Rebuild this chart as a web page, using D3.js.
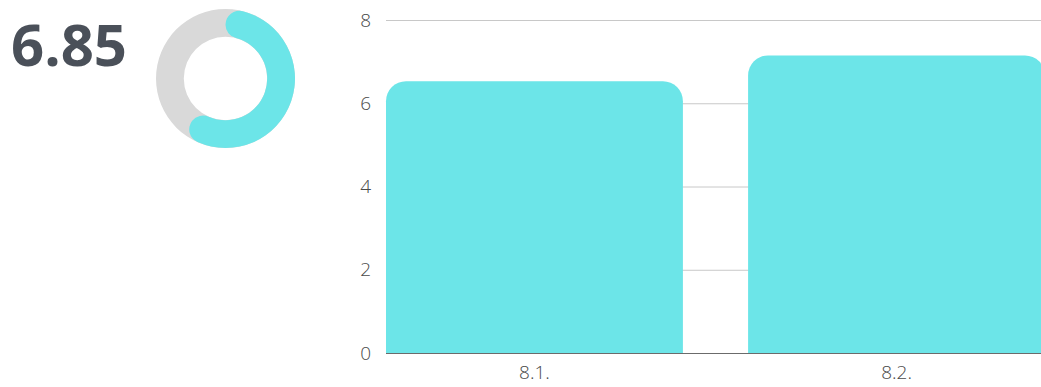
<!DOCTYPE html>
<html>
<head>
<meta charset="utf-8">
<script src="https://cdn.jsdelivr.net/npm/d3@7"></script>
<style>
  html, body { margin: 0; padding: 0; background: #fff; }
  svg { display: block; }
  text { font-family: "Open Sans", sans-serif; }
</style>
</head>
<body>
<svg id="chart" width="1041" height="387"></svg>
<script>
// Headline score and its gauge
const score = 6.85;
const gaugeDomain = [0, 11.3];

// Bar chart data
const categories = ["8.1.", "8.2."];
const values = [6.53, 7.15];
const yTicks = [0, 2, 4, 6, 8];

const cyan = "#6ce5e8";
const svg = d3.select("#chart");

// --- score text ---
svg.append("text")
  .attr("x", 11)
  .attr("y", 66)
  .style("font-size", "58px")
  .style("font-weight", 700)
  .attr("fill", "#4a5059")
  .text(score.toFixed(2));

// --- gauge donut ---
const gauge = svg.append("g").attr("transform", "translate(225.5,78.5)");
const angle = d3.scaleLinear().domain(gaugeDomain).range([0, 2 * Math.PI]);
const arc = d3.arc().innerRadius(41.7).outerRadius(69.5);
gauge.append("path")
  .attr("d", arc({startAngle: 0, endAngle: 2 * Math.PI}))
  .attr("fill", "#d9d9d9");
gauge.append("path")
  .attr("d", arc.cornerRadius(13.9)({startAngle: 0, endAngle: angle(score)}))
  .attr("fill", cyan);

// --- bar chart ---
const x = d3.scaleBand()
  .domain(categories)
  .range([386, 1045])
  .paddingInner(0.18)
  .paddingOuter(0);
const y = d3.scaleLinear().domain([0, 8]).range([353, 20]);

// grid lines
svg.append("g")
  .selectAll("line")
  .data(yTicks.filter(t => t > 0))
  .join("line")
  .attr("x1", 386).attr("x2", 1045)
  .attr("y1", d => y(d) + 0.5).attr("y2", d => y(d) + 0.5)
  .attr("stroke", "#c8c8c8")
  .attr("stroke-width", 1);

// y tick labels
const yAxis = d3.axisLeft(y).tickValues(yTicks).tickSize(0).tickPadding(15);
const gy = svg.append("g").attr("transform", "translate(386,0)").call(yAxis);
gy.select(".domain").remove();
gy.selectAll("text")
  .style("font-size", "19px")
  .style("font-weight", 300)
  .style("font-family", "'Open Sans', sans-serif")
  .attr("fill", "#4a4a4a");

// bars with rounded top corners
const r = 20;
function barPath(cat, v) {
  const x0 = x(cat), x1 = x0 + x.bandwidth();
  const yt = y(v), yb = y(0);
  return `M${x0},${yb}V${yt + r}A${r},${r} 0 0 1 ${x0 + r},${yt}H${x1 - r}A${r},${r} 0 0 1 ${x1},${yt + r}V${yb}Z`;
}
svg.append("g")
  .selectAll("path")
  .data(categories.map((c, i) => ({c, v: values[i]})))
  .join("path")
  .attr("d", d => barPath(d.c, d.v))
  .attr("fill", cyan);

// baseline
svg.append("line")
  .attr("x1", 386).attr("x2", 1045)
  .attr("y1", y(0) + 0.5).attr("y2", y(0) + 0.5)
  .attr("stroke", "#6b6b6b")
  .attr("stroke-width", 1);

// x category labels
const xAxis = d3.axisBottom(x).tickSize(0).tickPadding(13);
const gx = svg.append("g").attr("transform", `translate(0,${y(0)})`).call(xAxis);
gx.select(".domain").remove();
gx.selectAll("text")
  .style("font-size", "19px")
  .style("font-weight", 300)
  .style("font-family", "'Open Sans', sans-serif")
  .attr("fill", "#4a4a4a");
</script>
</body>
</html>
